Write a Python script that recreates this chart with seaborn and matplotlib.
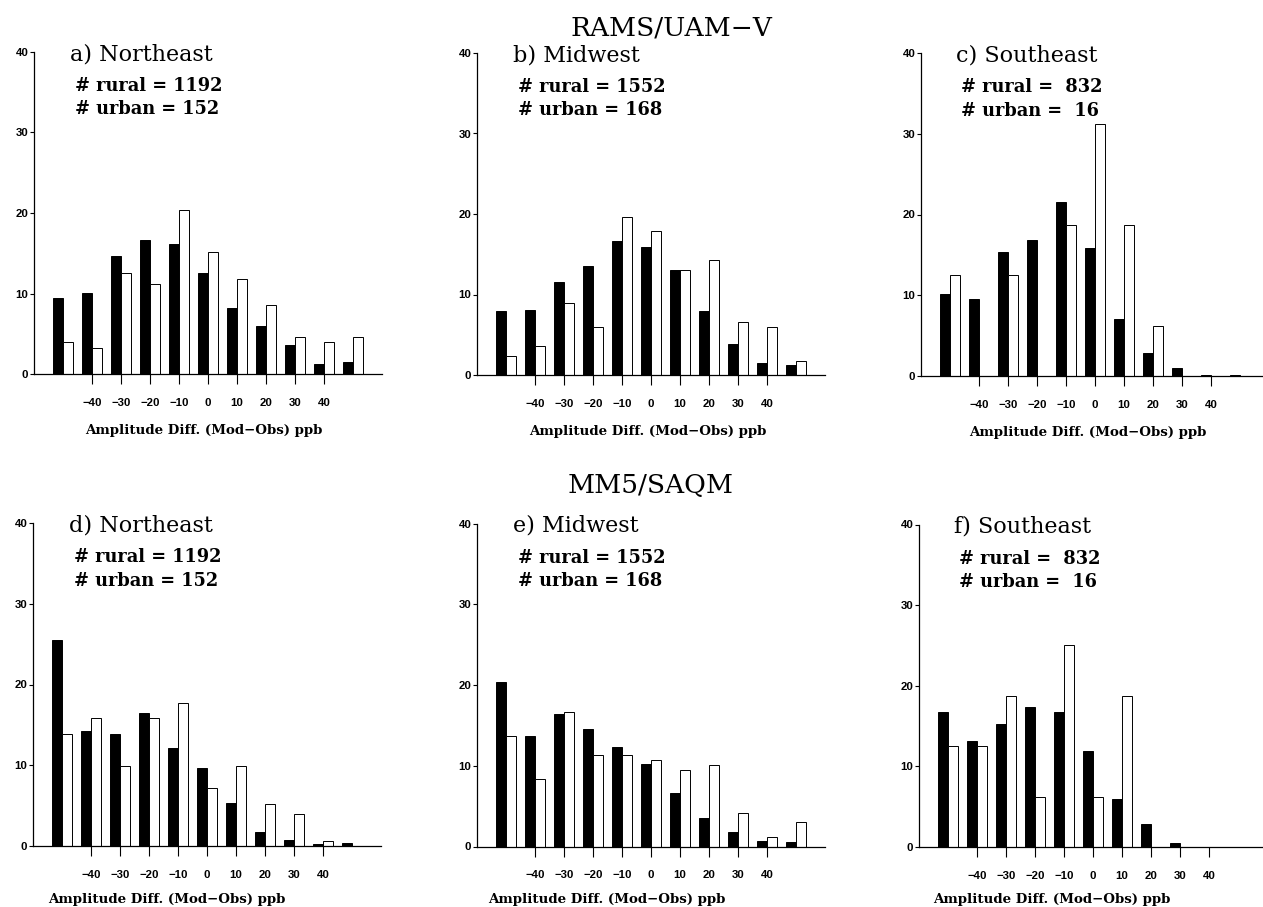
import numpy as np
import pandas as pd
import matplotlib
matplotlib.use("Agg")
import matplotlib.pyplot as plt
import seaborn as sns

# bin centres (ppb) and percent of sites in each bin
bins = [-50, -40, -30, -20, -10, 0, 10, 20, 30, 40, 50]
xtick_vals = [-40, -30, -20, -10, 0, 10, 20, 30, 40]
xtick_labels = ["\u221240", "\u221230", "\u221220", "\u221210", "0", "10", "20", "30", "40"]
ytick_vals = [0, 10, 20, 30, 40]

# RAMS/UAM-V
ne_rams_rural = [9.5, 10.1, 14.6, 16.6, 16.2, 12.6, 8.2, 6.0, 3.6, 1.3, 1.5]
ne_rams_urban = [3.95, 3.29, 12.5, 11.18, 20.39, 15.13, 11.84, 8.55, 4.61, 3.95, 4.61]
mw_rams_rural = [7.9, 8.1, 11.5, 13.5, 16.7, 15.9, 13.0, 7.9, 3.8, 1.5, 1.2]
mw_rams_urban = [2.38, 3.57, 8.93, 5.95, 19.64, 17.86, 13.1, 14.29, 6.55, 5.95, 1.79]
se_rams_rural = [10.1, 9.5, 15.4, 16.8, 21.5, 15.8, 7.1, 2.9, 1.0, 0.15, 0.12]
se_rams_urban = [12.5, 0.0, 12.5, 0.0, 18.75, 31.25, 18.75, 6.25, 0.0, 0.0, 0.0]

# MM5/SAQM
ne_mm5_rural = [25.5, 14.2, 13.9, 16.5, 12.1, 9.7, 5.3, 1.7, 0.7, 0.2, 0.4]
ne_mm5_urban = [13.82, 15.79, 9.87, 15.79, 17.76, 7.24, 9.87, 5.26, 3.95, 0.66, 0.0]
mw_mm5_rural = [20.4, 13.7, 16.4, 14.6, 12.3, 10.2, 6.6, 3.5, 1.8, 0.66, 0.5]
mw_mm5_urban = [13.69, 8.33, 16.67, 11.31, 11.31, 10.71, 9.52, 10.12, 4.17, 1.19, 2.98]
se_mm5_rural = [16.7, 13.2, 15.3, 17.4, 16.8, 11.9, 6.0, 2.9, 0.5, 0.05, 0.05]
se_mm5_urban = [12.5, 12.5, 18.75, 6.25, 25.0, 6.25, 18.75, 0.0, 0.0, 0.0, 0.0]

panel_titles = ["a) Northeast", "b) Midwest", "c) Southeast",
                "d) Northeast", "e) Midwest", "f) Southeast"]
rural_counts = ["1192", "1552", " 832", "1192", "1552", " 832"]
urban_counts = ["152", "168", " 16", "152", "168", " 16"]

series = [(ne_rams_rural, ne_rams_urban), (mw_rams_rural, mw_rams_urban),
          (se_rams_rural, se_rams_urban), (ne_mm5_rural, ne_mm5_urban),
          (mw_mm5_rural, mw_mm5_urban), (se_mm5_rural, se_mm5_urban)]

rows = []
for p, (rur, urb) in enumerate(series):
    for b, r, u in zip(bins, rur, urb):
        rows.append({"panel": p, "bin": b, "site": "rural", "pct": r})
        rows.append({"panel": p, "bin": b, "site": "urban", "pct": u})
df = pd.DataFrame(rows)

sns.set_theme(style="white")
plt.rcParams["font.family"] = ["DejaVu Serif"]
plt.rcParams["axes.unicode_minus"] = True
plt.rcParams["text.color"] = "black"
plt.rcParams["axes.labelcolor"] = "black"
plt.rcParams["xtick.color"] = "black"
plt.rcParams["ytick.color"] = "black"

W, H = 1263, 907
fig = plt.figure(figsize=(W / 100, H / 100), dpi=100)

# axes boxes in pixels: left, x0 baseline, top(40)
px_per_unit = 348 / 120.0
boxes = [(34, 374, 52), (477, 375, 53), (921, 376, 53),
         (33, 846, 523), (477, 846.5, 523.5), (919, 847, 524.5)]
label_x = [0.489, 0.49, 0.49, 0.384, 0.372, 0.386]
label_y = [-0.186, -0.186, -0.186, -0.175, -0.175, -0.175]

tickfont = {"family": "Liberation Sans", "weight": "bold", "size": 8.2}

for p in range(6):
    left, base, top = boxes[p]
    width_px = min(348, W - left - 1)
    ax = fig.add_axes([left / W, (H - base) / H, width_px / W, (base - top) / H])
    sub = df[df["panel"] == p]
    sns.barplot(data=sub, x="bin", y="pct", hue="site", hue_order=["rural", "urban"],
                palette={"rural": "black", "urban": "white"}, native_scale=True,
                width=0.66, errorbar=None, edgecolor="black", linewidth=0.7,
                legend=False, ax=ax)
    ax.set_xlim(-60, -60 + width_px / px_per_unit)
    ax.set_ylim(0, 40)
    ax.set_xticks(xtick_vals, xtick_labels, fontdict=tickfont)
    ax.set_yticks(ytick_vals, [str(v) for v in ytick_vals], fontdict=tickfont)
    ax.tick_params(axis="x", direction="out", length=7, width=0.8, pad=10,
                   bottom=True, colors="black")
    ax.tick_params(axis="y", direction="out", length=3, width=0.8, pad=1,
                   left=True, colors="black")
    for s in ["top", "right"]:
        ax.spines[s].set_visible(False)
    for s in ["left", "bottom"]:
        ax.spines[s].set_color("black")
        ax.spines[s].set_linewidth(0.9)
    ax.set_ylabel("")
    ax.set_xlabel("Amplitude Diff. (Mod\u2212Obs) ppb", fontsize=9.6,
                  fontweight="bold", family="DejaVu Serif", va="baseline")
    ax.xaxis.set_label_coords(label_x[p], label_y[p])

    ax.text(0.103, 0.975, panel_titles[p], transform=ax.transAxes,
            fontsize=16, va="baseline", ha="left", clip_on=False)
    ax.text(0.118, 0.879, "# rural = " + rural_counts[p], transform=ax.transAxes,
            fontsize=12.8, fontweight="bold", va="baseline", ha="left")
    ax.text(0.118, 0.806, "# urban = " + urban_counts[p], transform=ax.transAxes,
            fontsize=12.8, fontweight="bold", va="baseline", ha="left")

fig.text(0.5317, (H - 35) / H, "RAMS/UAM\u2212V", fontsize=19, ha="center", va="baseline")
fig.text(0.5155, (H - 493) / H, "MM5/SAQM", fontsize=19, ha="center", va="baseline")

fig.savefig("out.png", dpi=100, facecolor="white")
